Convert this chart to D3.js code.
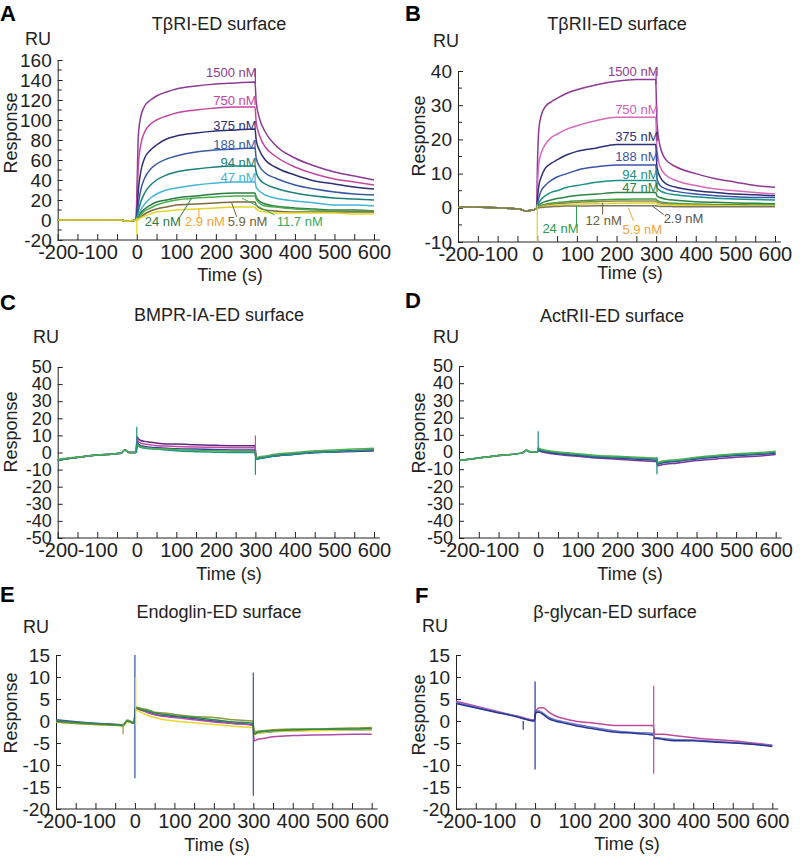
<!DOCTYPE html>
<html>
<head>
<meta charset="utf-8">
<script src="https://cdn.jsdelivr.net/npm/d3@7"></script>
<style>
  body { margin: 0; background: #fff; }
  text { font-family: "Liberation Sans", Arial, sans-serif; fill: #222; }
</style>
</head>
<body>
<svg id="chart" width="800" height="857"></svg>
<script>
'use strict'

// sampling times (s) shared by every sensorgram
const time = [-200, -100, -40, -30, -20, -2, 1, 4, 10, 20, 35, 50, 75, 100, 150, 200, 250, 299, 302, 310, 325, 350, 400, 450, 500, 550, 600]
const xTicks = [-200, -100, 0, 100, 200, 300, 400, 500, 600]

// A: TbRI-ED surface
const concA = ['1500 nM', '750 nM', '375 nM', '188 nM', '94 nM', '47 nM', '24 nM', '11.7 nM', '5.9 nM', '2.9 nM']
const respA = [
  [0, 0, 0, -1, -1, 0, 40, 85, 103, 114, 120, 124, 128, 131, 134, 136, 137, 138, 118, 102, 88, 75, 62, 54, 48, 44, 40],
  [0, 0, 0, -1, -1, 0, 25, 55, 75, 88, 96, 100, 104, 107, 110, 112, 113, 113, 98, 85, 73, 64, 53, 46, 41, 38, 35],
  [0, 0, 0, -1, -1, 0, 12, 30, 48, 62, 70, 75, 81, 84, 87, 89, 90, 91, 80, 70, 60, 53, 45, 39, 36, 33, 31],
  [0, 0, 0, -1, -1, 0, 6, 16, 30, 42, 51, 56, 61, 64, 68, 70, 71, 72, 62, 54, 47, 42, 35, 31, 28, 26, 25],
  [0, 0, 0, -1, -1, 0, 3, 9, 18, 27, 35, 40, 45, 48, 51, 53, 54, 54, 48, 41, 36, 32, 27, 24, 22, 21, 20],
  [0, 0, 0, -1, -1, 0, 2, 5, 10, 16, 22, 26, 30, 32, 35, 37, 38, 38, 33, 29, 25, 22, 19, 17, 15, 15, 14],
  [0, 0, 0, -1, -1, 0, 1, 3, 7, 11, 15, 18, 20, 22, 24, 26, 27, 27, 23, 19, 16, 14, 12, 11, 10, 10, 9],
  [0, 0, 0, -1, -1, 0, 1, 2, 5, 9, 12, 15, 18, 20, 22, 23, 24, 24, 21, 17, 14, 13, 11, 10, 9, 9, 9],
  [0, 0, 0, -1, -1, 0, 0, 1, 3, 6, 9, 11, 13, 15, 16, 17, 18, 18, 15, 12, 10, 9, 8, 8, 8, 8, 8],
  [0, 0, 0, -1, -1, 0, 0, 1, 2, 4, 6, 8, 9, 10, 11, 12, 13, 13, 11, 9, 8, 7, 7, 7, 7, 6, 6]
]
const yTicksA = [-20, 0, 20, 40, 60, 80, 100, 120, 140, 160]
const spikesA = [{ t: 0, lo: -15, hi: 2, s: 9 }, { t: 300, lo: 136, hi: 151, s: 0 }]

// B: TbRII-ED surface
const concB = ['1500 nM', '750 nM', '375 nM', '188 nM', '94 nM', '47 nM', '24 nM', '12 nM', '5.9 nM', '2.9 nM']
const respB = [
  [0.3, 0, -0.5, -1, -0.8, -0.3, 15, 23, 27, 29.5, 31, 32, 33.5, 34.5, 36, 37, 37.5, 37.5, 25, 18, 14, 12, 10, 8.5, 7.5, 6.5, 6],
  [0.3, 0, -0.5, -1, -0.8, -0.3, 8, 13, 16, 18.5, 20.5, 21.5, 23, 24, 25.5, 26.5, 26.5, 26.5, 17, 12, 9.5, 8, 6.5, 5.5, 5, 4.5, 4],
  [0.3, 0, -0.5, -1, -0.8, -0.3, 3.5, 6.5, 9, 11.5, 13, 14, 15.5, 16.5, 17.5, 18.5, 18.5, 18.5, 12, 9, 7, 6, 5, 4.5, 4, 3.8, 3.5],
  [0.3, 0, -0.5, -1, -0.8, -0.3, 1.5, 3, 5, 6.5, 8, 9, 10, 11, 12, 12.5, 12.5, 12.5, 8.5, 6.5, 5.5, 4.8, 4, 3.5, 3.2, 3, 3],
  [0.3, 0, -0.5, -1, -0.8, -0.3, 0.8, 1.5, 2.5, 3.5, 4.5, 5, 6, 6.5, 7.5, 8, 8, 8, 6, 5, 4.3, 3.8, 3.2, 2.8, 2.6, 2.4, 2.3],
  [0.3, 0, -0.5, -1, -0.8, -0.3, 0.4, 0.8, 1.3, 1.8, 2.3, 2.7, 3.2, 3.6, 4, 4.5, 4.5, 4.5, 3.5, 3, 2.5, 2.2, 1.8, 1.6, 1.4, 1.3, 1.2],
  [0.3, 0, -0.5, -1, -0.8, -0.3, 0.2, 0.4, 0.7, 1, 1.3, 1.5, 1.8, 2, 2.3, 2.5, 2.6, 2.6, 2.2, 1.8, 1.5, 1.3, 1.1, 1, 0.9, 0.8, 0.8],
  [0.3, 0, -0.5, -1, -0.8, -0.3, 0, 0.2, 0.5, 0.7, 1, 1.2, 1.4, 1.6, 1.8, 2, 2, 2, 1.7, 1.4, 1.2, 1, 0.9, 0.8, 0.7, 0.7, 0.6],
  [0.3, 0, -0.5, -1, -0.8, -0.3, 0, 0.1, 0.3, 0.5, 0.7, 0.8, 1, 1.1, 1.2, 1.3, 1.4, 1.4, 1.2, 1, 0.9, 0.8, 0.7, 0.6, 0.6, 0.5, 0.5],
  [0.3, 0, -0.5, -1, -0.8, -0.3, 0, 0, 0.1, 0.2, 0.3, 0.4, 0.5, 0.5, 0.6, 0.6, 0.6, 0.6, 0.5, 0.4, 0.4, 0.3, 0.3, 0.3, 0.3, 0.3, 0.3]
]
const yTicksB = [-10, 0, 10, 20, 30, 40]
const spikesB = [{ t: 0, lo: -10, hi: 1, s: 8 }, { t: 300, lo: 36, hi: 40, s: 0 }]

// C: BMPR-IA-ED surface
const respC = [
  [-4.5, -1.5, -0.5, 1.5, 0, 0, 9, 8, 7, 6.5, 6, 5.5, 5, 5, 4.5, 4.2, 4, 4, -3.5, -3, -2.5, -2, -1, 0, 0.3, 0.6, 1],
  [-4.5, -1.5, -0.5, 1.5, 0, 0, 8, 6.5, 5.5, 5, 4.5, 4, 3.8, 3.5, 3.2, 3, 2.8, 2.8, -3.5, -3, -2.5, -1.5, -0.5, 0.3, 0.8, 1.2, 1.5],
  [-4.5, -1.5, -0.5, 1.5, 0, 0, 6, 5, 4, 3.5, 3, 2.8, 2.5, 2.2, 2, 1.8, 1.5, 1.5, -4, -3.5, -3, -2, -1, 0, 0.5, 1, 1.2],
  [-4.5, -1.5, -0.5, 1.5, 0, 0, 5, 4, 3, 2.5, 2.2, 2, 1.5, 1, 0.5, 0.2, 0, 0, -4, -3.5, -3, -2, -1, 0, 0.5, 1, 1.5],
  [-4, -1.5, -0.5, 1.5, 0, 0.3, 5, 4, 3.2, 2.8, 2.5, 2.2, 2, 1.8, 1.2, 1, 0.8, 0.6, -3, -2.5, -2, -1, 0, 1, 1.5, 2, 2.5]
]
const yTicksC = [-50, -40, -30, -20, -10, 0, 10, 20, 30, 40, 50]
const spikesC = [{ t: 0, lo: 0, hi: 15, s: 3 }, { t: 300, lo: 0, hi: 10, s: 1 }, { t: 300, lo: -13, hi: 0, s: 3 }]

// D: ActRII-ED surface
const respD = [
  [-5, -2, -0.5, 1, 0, 0, 1, 0.5, 0, -0.5, -1, -1.5, -2, -2.5, -3.5, -4.2, -5, -5.5, -8, -7.5, -7, -6.5, -5, -4, -3, -2.5, -1.5],
  [-5, -2, -0.5, 1, 0, 0, 1.5, 1, 0.5, 0, -0.5, -1, -1.5, -2, -3, -3.5, -4.2, -4.8, -7, -6.5, -6, -5.5, -4, -3, -2, -1.5, -0.8],
  [-5, -2, -0.5, 1, 0, 0, 2, 1.5, 1, 0.5, 0, -0.5, -1, -1.5, -2.5, -3, -3.5, -4, -6.5, -6, -5.5, -5, -3.5, -2.5, -1.5, -1, 0],
  [-5, -2, -0.5, 1, 0, 0, 2.5, 2, 1.5, 1, 0.5, 0, -0.5, -1, -2, -2.5, -3, -3.5, -6, -5.5, -5, -4.5, -3, -2, -1, -0.5, 0.5]
]
const yTicksD = yTicksC
const spikesD = [{ t: 0, lo: 0, hi: 12, s: 2 }, { t: 300, lo: -13, hi: -3, s: 2 }]

// E: Endoglin-ED surface
const respE = [
  [0.3, -0.5, -0.8, -1, 0, -0.5, 2.5, 3, 2.8, 2.5, 2, 1.5, 1.2, 1, 0.5, 0, -0.5, -0.8, -3, -2.8, -2.6, -2.4, -2.2, -2.1, -2, -2, -2],
  [0, -0.6, -0.9, -1, 0, -0.5, 2.5, 2.8, 2.6, 2.3, 1.8, 1.4, 1, 0.8, 0.3, -0.2, -0.6, -1, -4.5, -4.2, -4, -3.6, -3.3, -3.2, -3.1, -3, -3],
  [-0.3, -0.8, -1, -1.2, -0.2, -0.5, 2.2, 2.5, 2.2, 1.8, 1.2, 0.8, 0.3, 0, -0.4, -0.8, -1.2, -1.5, -3.2, -2.8, -2.6, -2.4, -2.3, -2.2, -2.1, -2, -2],
  [-0.2, -0.8, -1, -1, 0.2, -0.3, 3, 3.2, 3, 2.8, 2.5, 2, 1.8, 1.5, 1, 0.8, 0.3, 0, -2.5, -2.3, -2.2, -2, -1.8, -1.8, -1.7, -1.6, -1.5],
  [0, -0.6, -0.9, -1, 0, -0.5, 2.8, 3, 2.8, 2.5, 2.2, 1.8, 1.5, 1.2, 0.8, 0.3, -0.2, -0.5, -3, -2.6, -2.4, -2.2, -2, -1.9, -1.8, -1.8, -1.7]
]
const yTicksE = [-20, -15, -10, -5, 0, 5, 10, 15]
const spikesE = [{ t: 0, lo: -13, hi: 15, s: 0 }, { t: 2, lo: -1, hi: 10, s: 2 }, { t: 300, lo: -17, hi: 11, s: 0 }, { t: -30, lo: -3, hi: -0.5, s: 3 }]

// F: b-glycan-ED surface
const respF = [
  [4.5, 2.3, 1, 0.8, 0.5, 0.2, 2, 2.5, 3, 3, 2, 1.2, 0.5, 0, -0.5, -1, -1, -1, -3, -3, -3, -3.3, -3.8, -4.2, -4.5, -5, -5.5],
  [4.2, 2.1, 0.9, 0.6, 0.4, 0.1, 1.8, 2.2, 2.3, 1.8, 0.8, 0.3, -0.2, -0.7, -1.5, -2.2, -2.6, -2.8, -3.8, -3.8, -4, -4.2, -4.3, -4.6, -4.9, -5.2, -5.6],
  [4, 2, 0.8, 0.5, 0.3, 0, 1.5, 2, 2, 1.5, 0.5, 0, -0.5, -1, -1.8, -2.5, -2.8, -3.2, -4, -4, -4.2, -4.5, -4.5, -4.8, -5, -5.3, -5.8]
]
const yTicksF = yTicksE
const spikesF = [{ t: 0, lo: -11, hi: 9, s: 2 }, { t: 300, lo: -12, hi: 8, s: 0 }, { t: -30, lo: -2, hi: 0, s: 2 }]

const colorsA = ['#8b3c92', '#c4479f', '#2e2f74', '#3a5aa4', '#1a8078', '#45b4d6', '#2d7c46', '#4caf50', '#7c6a3c', '#e5d52a']
const labelColorsA = ['#8b3c92', '#c4479f', '#2e2f74', '#3a5aa4', '#1a8078', '#45b4d6', '#2d7c46', '#3aa85a', '#6e6236', '#f0a43a']
const colorsB = ['#8e3a94', '#d46ab8', '#2a2f78', '#3b55a8', '#1a9088', '#2b8446', '#43a047', '#8c8a48', '#e0d030', '#7a7a5a']
const labelColorsB = ['#8e3a94', '#d060b0', '#2a2f78', '#3b55a8', '#1a9088', '#2b8446', '#2e9a4e', '#6a6040', '#f0a43a', '#555555']
const colorsC = ['#5b2a7e', '#c84aa8', '#3a3f9a', '#1a9088', '#4caf50']
const colorsD = ['#7b3a9a', '#3a3fa0', '#1a8a80', '#4caf50']
const colorsE = ['#3050a8', '#b04aa8', '#e8d830', '#8a9a40', '#2a8a4a']
const colorsF = ['#c04a9a', '#6a7ad0', '#2a3590']

const svg = d3.select('#chart')

function drawPanel (p) {
  const x = d3.scaleLinear().domain([-200, 600]).range(p.xr)
  const y = d3.scaleLinear().domain(d3.extent(p.yTicks)).range(p.yr)
  const g = svg.append('g')

  // axes
  const xAxis = d3.axisBottom(x)
    .tickValues(d3.range(-200, 601, 50))
    .tickFormat(d => (xTicks.includes(d) ? String(d) : ''))
    .tickSizeInner(-6).tickSizeOuter(0).tickPadding(5)
  const gx = g.append('g').attr('transform', `translate(0,${p.yr[0]})`).call(xAxis)
  gx.select('.domain').remove()
  gx.append('line').attr('x1', x(-200)).attr('x2', x(615)).attr('stroke', '#222')
  gx.selectAll('line').attr('stroke', '#222')
  gx.selectAll('text').attr('font-size', 20).attr('fill', '#111')

  const yAxis = d3.axisLeft(y)
    .tickValues(p.yTicks)
    .tickFormat(d => String(d))
    .tickSizeInner(-5).tickSizeOuter(0).tickPadding(6)
  const gy = g.append('g').attr('transform', `translate(${x(-200)},0)`).call(yAxis)
  gy.select('.domain').attr('stroke', '#222')
  gy.selectAll('line').attr('stroke', '#222')
  gy.selectAll('text').attr('font-size', p.yFont || 19).attr('fill', '#111')
  if (p.yMinor) {
    gy.selectAll('.minor').data(p.yMinor).join('line')
      .attr('x2', 4).attr('y1', d => y(d)).attr('y2', d => y(d)).attr('stroke', '#222')
  }

  // traces
  const line = d3.line().x((d, i) => x(time[i])).y(d => y(d)).curve(d3.curveMonotoneX)
  g.append('g').attr('fill', 'none').attr('stroke-width', 1.5)
    .selectAll('path').data(p.series).join('path')
    .attr('stroke', (d, i) => p.colors[i])
    .attr('d', line)

  g.append('g').attr('stroke-width', 1.2)
    .selectAll('line').data(p.spikes).join('line')
    .attr('x1', d => x(d.t)).attr('x2', d => x(d.t))
    .attr('y1', d => y(d.lo)).attr('y2', d => y(d.hi))
    .attr('stroke', d => p.colors[d.s])

  // concentration labels
  if (p.labels) {
    p.labels.forEach(l => {
      if (l.lead) {
        g.append('line')
          .attr('x1', x(l.lead[0])).attr('y1', y(l.lead[1]))
          .attr('x2', x(l.lead[2])).attr('y2', y(l.lead[3]))
          .attr('stroke', p.labelColors[l.i]).attr('stroke-width', 1)
      }
      g.append('text')
        .attr('x', x(l.t)).attr('y', y(l.v))
        .attr('text-anchor', l.anchor)
        .attr('font-size', 13)
        .style('fill', p.labelColors[l.i])
        .text(p.names[l.i])
    })
  }

  // titles
  g.append('text').attr('x', p.letter[0]).attr('y', p.letter[1])
    .attr('font-size', 22).attr('font-weight', 'bold').style('fill', '#000').text(p.id)
  g.append('text').attr('x', p.title[0]).attr('y', p.title[1])
    .attr('text-anchor', 'middle').attr('font-size', 18).text(p.name)
  g.append('text').attr('x', p.ru[0]).attr('y', p.ru[1])
    .attr('font-size', 18).text('RU')
  g.append('text').attr('transform', `translate(${p.resp[0]},${p.resp[1]}) rotate(-90)`)
    .attr('text-anchor', 'middle').attr('font-size', 18).text('Response')
  g.append('text').attr('x', p.timeLabel[0]).attr('y', p.timeLabel[1])
    .attr('text-anchor', 'middle').attr('font-size', 18).text('Time (s)')
}

drawPanel({
  id: 'A', name: 'TβRI-ED surface',
  xr: [57.7, 374], yr: [240, 60], yTicks: yTicksA,
  yMinor: [-10, 10, 30, 50, 70, 90, 110, 130, 150],
  series: respA, colors: colorsA, spikes: spikesA,
  names: concA, labelColors: labelColorsA,
  labels: [
    { i: 0, t: 303, v: 143, anchor: 'end' },
    { i: 1, t: 303, v: 115, anchor: 'end' },
    { i: 2, t: 303, v: 90, anchor: 'end' },
    { i: 3, t: 303, v: 71, anchor: 'end' },
    { i: 4, t: 303, v: 53, anchor: 'end' },
    { i: 5, t: 303, v: 38, anchor: 'end' },
    { i: 6, t: 20, v: -6, anchor: 'start', lead: [109, 3, 139, 22] },
    { i: 9, t: 122, v: -6, anchor: 'start', lead: [157, 1, 157, 11] },
    { i: 8, t: 230, v: -6, anchor: 'start', lead: [253, 3, 240, 17] },
    { i: 7, t: 354, v: -6, anchor: 'start', lead: [349, 5, 266, 22] }
  ],
  letter: [0, 21], title: [219, 30], ru: [25, 45], resp: [16.5, 133], timeLabel: [230, 281]
})

drawPanel({
  id: 'B', name: 'TβRII-ED surface',
  xr: [458, 775], yr: [242, 71], yTicks: yTicksB,
  yMinor: [-5, 5, 15, 25, 35],
  series: respB, colors: colorsB, spikes: spikesB,
  names: concB, labelColors: labelColorsB,
  labels: [
    { i: 0, t: 306, v: 38.6, anchor: 'end' },
    { i: 1, t: 306, v: 27.3, anchor: 'end' },
    { i: 2, t: 306, v: 19.5, anchor: 'end' },
    { i: 3, t: 306, v: 13.7, anchor: 'end' },
    { i: 4, t: 306, v: 8.5, anchor: 'end' },
    { i: 5, t: 306, v: 4.5, anchor: 'end' },
    { i: 6, t: 13, v: -7.4, anchor: 'start', lead: [99, -5.5, 99, 0.6] },
    { i: 7, t: 122, v: -5, anchor: 'start', lead: [165, -2, 165, 1.5] },
    { i: 8, t: 215, v: -7.7, anchor: 'start', lead: [243, -3.9, 230, 0] },
    { i: 9, t: 319, v: -4.5, anchor: 'start', lead: [319, -2, 291, 0.5] }
  ],
  letter: [405, 21], title: [617, 30], ru: [433, 47], resp: [425, 136], timeLabel: [630, 279]
})

drawPanel({
  id: 'C', name: 'BMPR-IA-ED surface',
  xr: [57.7, 374], yr: [538, 367], yTicks: yTicksC, yFont: 18,
  series: respC, colors: colorsC, spikes: spikesC,
  letter: [0, 310], title: [219, 321], ru: [33, 343], resp: [16.5, 432], timeLabel: [229, 580]
})

drawPanel({
  id: 'D', name: 'ActRII-ED surface',
  xr: [459, 775.7], yr: [538, 366], yTicks: yTicksD, yFont: 18,
  series: respD, colors: colorsD, spikes: spikesD,
  letter: [405, 308], title: [612, 322], ru: [433, 343], resp: [425, 433], timeLabel: [630, 580]
})

drawPanel({
  id: 'E', name: 'Endoglin-ED surface',
  xr: [56, 371.7], yr: [809, 655], yTicks: yTicksE,
  series: respE, colors: colorsE, spikes: spikesE,
  letter: [0, 602], title: [219, 618], ru: [23, 633], resp: [16.5, 713], timeLabel: [217, 851]
})

drawPanel({
  id: 'F', name: 'β-glycan-ED surface',
  xr: [456, 772.3], yr: [809, 655], yTicks: yTicksF,
  series: respF, colors: colorsF, spikes: spikesF,
  letter: [415, 603], title: [615, 618], ru: [422, 632], resp: [425, 715], timeLabel: [627, 850]
})
</script>
</body>
</html>
